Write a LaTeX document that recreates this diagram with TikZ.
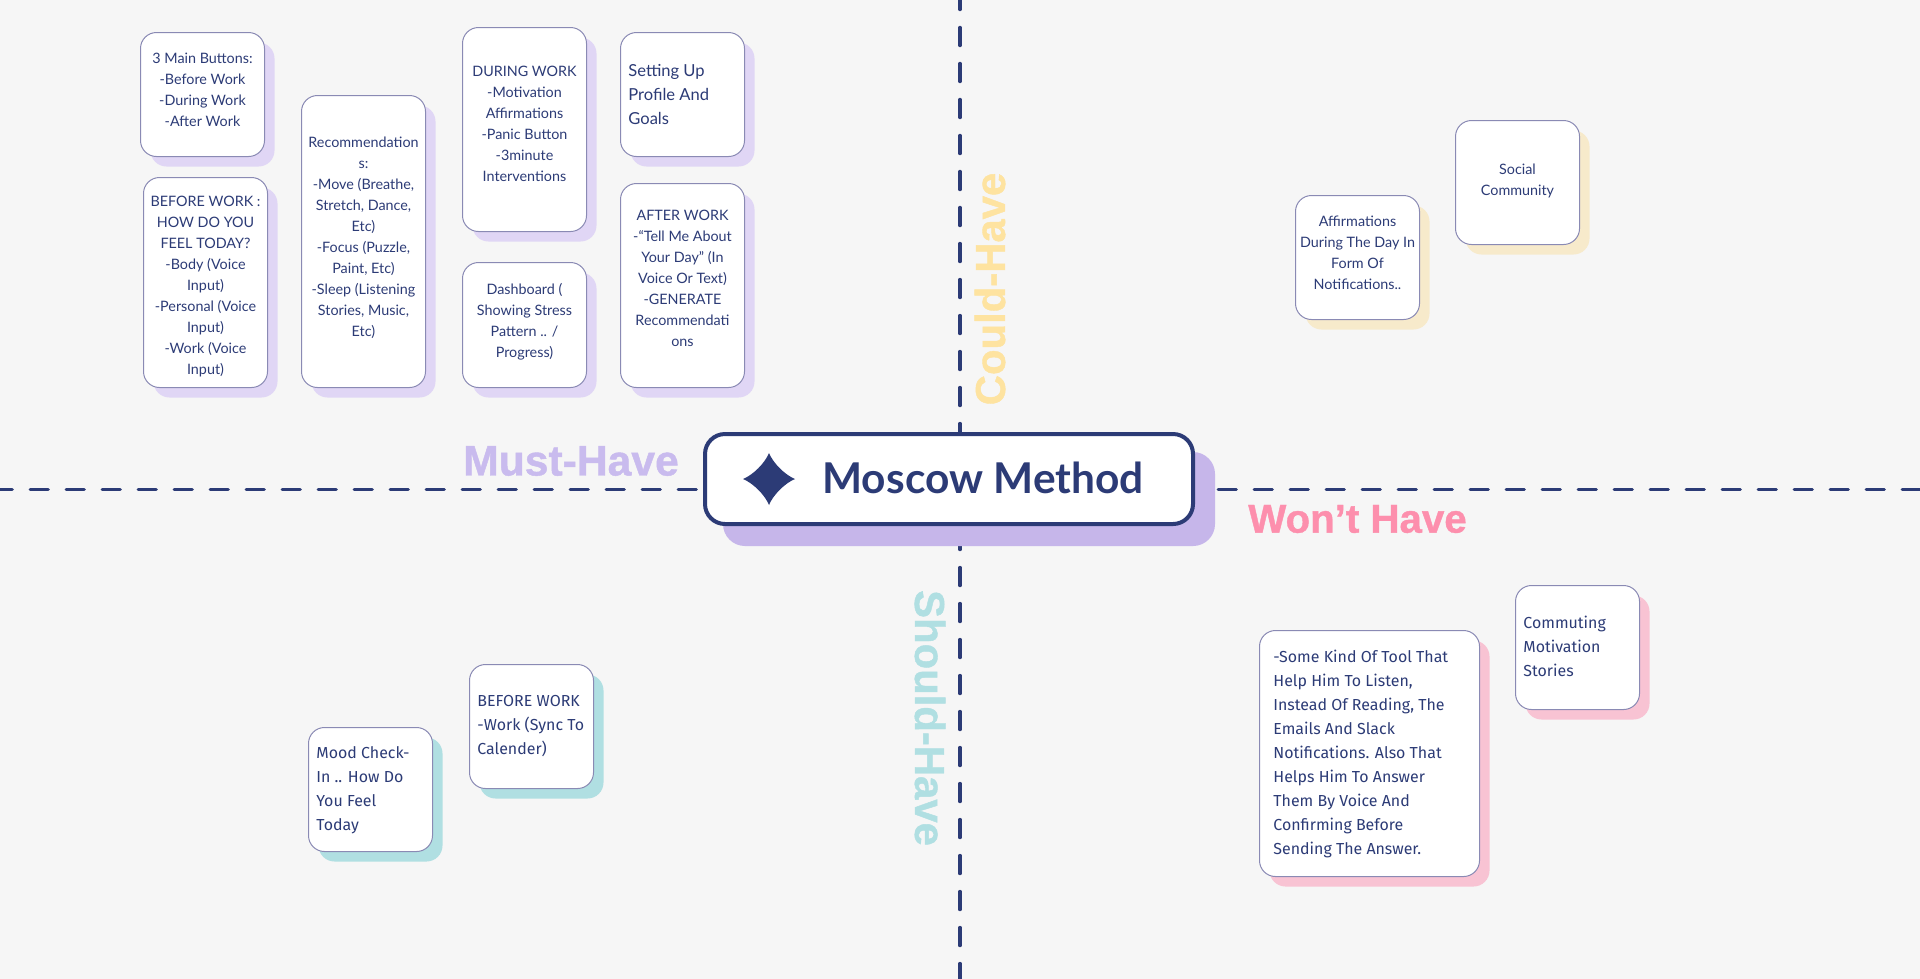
\documentclass[tikz,border=0pt]{standalone}
\usepackage{fontspec}
\usepackage{xcolor}
\usepackage{tikz}
\usetikzlibrary{positioning,shadows}
\setmainfont{Lato}
\newfontfamily\roundfont{Fira Sans}
\newfontfamily\headfont[BoldFeatures={FakeBold=1}]{Liberation Sans}

\definecolor{navy}{HTML}{2C3B76}
\definecolor{paper}{HTML}{F6F6F6}
\definecolor{cardline}{HTML}{8A8AB4}
\definecolor{mustbg}{HTML}{E0D6F5}
\definecolor{couldbg}{HTML}{F7EACB}
\definecolor{shouldbg}{HTML}{B0DFE2}
\definecolor{wontbg}{HTML}{F8C3D3}
\definecolor{titlebg}{HTML}{C6B6EA}
\definecolor{musthead}{HTML}{C9BBEE}
\definecolor{couldhead}{HTML}{FEE3A0}
\definecolor{wonthead}{HTML}{FD8FAD}

\tikzset{
  card/.style={draw=cardline, line width=0.5bp, fill=white, rounded corners=8bp, inner sep=0pt,
    anchor=north west, minimum width=62bp},
  mustcard/.style={card, general shadow={shadow xshift=5bp, shadow yshift=-5bp, fill=mustbg}},
  couldcard/.style={card, general shadow={shadow xshift=5bp, shadow yshift=-5bp, fill=couldbg}},
  shouldcard/.style={card, general shadow={shadow xshift=5bp, shadow yshift=-5bp, fill=shouldbg}},
  wontcard/.style={card, general shadow={shadow xshift=5bp, shadow yshift=-5bp, fill=wontbg}},
  midtext/.style={inner sep=0pt, text=navy, align=center, font=\fontsize{7.2}{10.54}\selectfont},
  sidetext/.style={inner sep=0pt, text=navy, align=left, font=\roundfont\fontsize{8}{12.05}\selectfont},
  headtext/.style={inner sep=0pt, font=\headfont\bfseries\fontsize{21}{24}\selectfont},
  axis/.style={draw=navy, line width=1.7bp, line cap=round, dash pattern=on 9bp off 9bp}
}

\begin{document}
\begin{tikzpicture}[x=0.5bp,y=-0.5bp]
  \useasboundingbox (0,0) rectangle (1920,978);
  \fill[paper] (0,0) rectangle (1920,980);

  \coordinate (axisw) at (-5.8,489.5);
  \coordinate (axise) at (1925,489.5);
  \coordinate (axisn) at (960,-8.5);
  \coordinate (axiss) at (960,985);
  \draw[axis] (axisw) -- (axise);
  \draw[axis] (axisn) -- (axiss);

  \node[draw=navy, line width=2bp, fill=white, rounded corners=10bp, anchor=north west,
    minimum width=244bp, minimum height=45bp,
    general shadow={shadow xshift=10bp, shadow yshift=-10bp, fill=titlebg, draw=titlebg}] (method) at (703,432) {};
  \fill[navy] (769,453) .. controls (773,463) and (785,475) .. (795,479)
    .. controls (785,483) and (773,495) .. (769,505)
    .. controls (765,495) and (753,483) .. (743,479)
    .. controls (753,475) and (765,463) .. (769,453) -- cycle;
  \node[inner sep=0pt, text=navy, font=\fontsize{21.3}{24}\selectfont\bfseries] (methodname) at (983,478) {Moscow Method};

  \node[headtext, text=musthead, font=\headfont\bfseries\fontsize{21.4}{24}\selectfont] (must) at (571,461) {Must-Have};
  \node[headtext, text=wonthead, font=\headfont\bfseries\fontsize{20.2}{24}\selectfont] (wont) at (1357.5,519) {Won’t Have};
  \node[headtext, text=couldhead, rotate=90] (could) at (990,289) {Could-Have};
  \node[headtext, text=shouldbg, rotate=-90] (should) at (930,718) {Should-Have};

  \node[mustcard, minimum height=62bp] (buttons) at (140,32) {};
  \node[midtext, below=10.5bp of buttons.north] (buttonstext) {3 Main Buttons:\\-Before Work\\-During Work\\-After Work};
  \node[mustcard, minimum height=105bp] (before) at (143,177) {};
  \node[midtext, below=9.5bp of before.north] (beforetext) {BEFORE WORK :\\HOW DO YOU\\FEEL TODAY?\\-Body (Voice\\Input)\\-Personal (Voice\\Input)\\-Work (Voice\\Input)};
  \node[mustcard, minimum height=146bp] (recs) at (301,95) {};
  \node[midtext, below=21bp of recs.north] (recstext) {Recommendation\\s:\\-Move (Breathe,\\Stretch, Dance,\\Etc)\\-Focus (Puzzle,\\Paint, Etc)\\-Sleep (Listening\\Stories, Music,\\Etc)};
  \node[mustcard, minimum height=102bp] (during) at (462,27) {};
  \node[midtext, below=19.5bp of during.north] (duringtext) {DURING WORK\\-Motivation\\Affirmations\\-Panic Button\\-3minute\\Interventions};
  \node[mustcard, minimum height=62.5bp] (dashboard) at (462,262) {};
  \node[midtext, below=10.5bp of dashboard.north] (dashboardtext) {Dashboard (\\Showing Stress\\Pattern .. /\\Progress)};
  \node[mustcard, minimum height=62bp] (profile) at (620,32) {};
  \node[sidetext, font=\fontsize{8.3}{12.05}\selectfont, below right=16bp and 4bp of profile.north west] (profiletext) {Setting Up\\Profile And\\Goals};
  \node[mustcard, minimum height=102bp] (after) at (620,183) {};
  \node[midtext, below=13.5bp of after.north] (aftertext) {AFTER WORK\\-“Tell Me About\\Your Day” (In\\Voice Or Text)\\-GENERATE\\Recommendati\\ons};

  \node[couldcard, minimum height=62bp] (social) at (1455,120) {};
  \node[midtext, below=22bp of social.north] (socialtext) {Social\\Community};
  \node[couldcard, minimum height=62bp] (affirm) at (1295,195) {};
  \node[midtext, below=10.5bp of affirm.north] (affirmtext) {Affirmations\\During The Day In\\Form Of\\Notifications..};

  \node[shouldcard, minimum height=62bp] (mood) at (308,727) {};
  \node[sidetext, below right=9.5bp and 4bp of mood.north west] (moodtext) {Mood Check-\\In .. How Do\\You Feel\\Today};
  \node[shouldcard, minimum height=62bp] (sync) at (469,664) {};
  \node[sidetext, below right=15.5bp and 4bp of sync.north west] (synctext) {BEFORE WORK\\-Work (Sync To\\Calender)};

  \node[wontcard, minimum width=110bp, minimum height=123bp] (tool) at (1259,630) {};
  \node[sidetext, below right=10bp and 7bp of tool.north west] (tooltext) {-Some Kind Of Tool That\\Help Him To Listen,\\Instead Of Reading, The\\Emails And Slack\\Notifications. Also That\\Helps Him To Answer\\Them By Voice And\\Confirming Before\\Sending The Answer.};
  \node[wontcard, minimum height=62bp] (commute) at (1515,585) {};
  \node[sidetext, below right=15.5bp and 4bp of commute.north west] (commutetext) {Commuting\\Motivation\\Stories};
\end{tikzpicture}
\end{document}
